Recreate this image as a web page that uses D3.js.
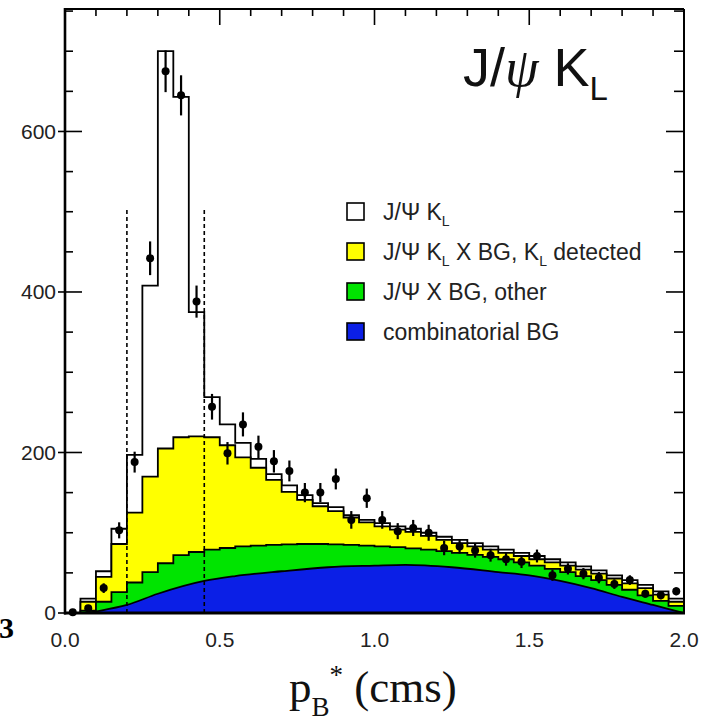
<!DOCTYPE html>
<html>
<head>
<meta charset="utf-8">
<script src="https://cdn.jsdelivr.net/npm/d3@7"></script>
<style>
  body { margin: 0; background: #fff; }
</style>
</head>
<body>
<script>
  var width = 713, height = 723;

  // bin lower edges, width 0.05
  var binStart = [0.00,0.05,0.10,0.15,0.20,0.25,0.30,0.35,0.40,0.45,
                  0.50,0.55,0.60,0.65,0.70,0.75,0.80,0.85,0.90,0.95,
                  1.00,1.05,1.10,1.15,1.20,1.25,1.30,1.35,1.40,1.45,
                  1.50,1.55,1.60,1.65,1.70,1.75,1.80,1.85,1.90,1.95];
  var binWidth = 0.05;

  // stacked tops
  var totalTop = [0,18,52,105,197,408,700,643,375,269,235,212,192,173,159,147,137,132,122,116,
                  112,108,105,100,95,91,87,83,79,75,71,67,63,58,53,47,41,35,27,18];
  var kxTop = [0,14,45,86,125,170,205,219,220,219,209,194,181,166,151,141,133,127,119,113,
               108,104,101,96,91,87,83,79,75,71,67,63,59,54,49,43,37,31,23,14];
  var otherTop = [0,3,14,26,38,51,62,72,76,79,81,83,84,85,85.5,86,86,85.5,85,84,
                  83,82,80.5,79,77,75,72.5,70,67,63,59,55,51,46,41,35,29,22,15,9];

  // combinatorial BG (smooth)
  var combX = [0.07,0.10,0.20,0.30,0.45,0.55,0.70,0.85,1.00,1.10,1.25,1.40,1.50,1.60,1.70,1.80,1.90,1.97,2.00];
  var combY = [0,2,10,24,40,46,52,57,59,60,57,51,47,40,31,20,10,3,0];

  // data points
  var dataY = [1,6,31,103,188,442,675,645,388,257,199,235,207,189,177,150,150,167,116,143,
               116,102,106,100,81,83,78,72,67,64,71,47,55,49,44,36,41,24,22,27];
  var dataErr = [1,3,6,10,13,21,26,25,20,16,14,15,14,14,13,12,12,13,11,12,
                 11,10,10,10,9,9,9,8,8,8,8,7,7,7,7,6,6,5,5,5];

  var yTicks = [0,200,400,600];
  var xTicks = ["0.0","0.5","1.0","1.5","2.0"];
  var cutLines = [0.2, 0.45];

  var legendItems = [
    { fill: "#ffffff", parts: [["J/\u03A8 K",0],["L",1]] },
    { fill: "#ffff00", parts: [["J/\u03A8 K",0],["L",1],[" X BG, K",0],["L",1],[" detected",0]] },
    { fill: "#00e400", parts: [["J/\u03A8 X BG, other",0]] },
    { fill: "#0b1fe6", parts: [["combinatorial BG",0]] }
  ];

(function(){
  var pLeft = 65, pRight = 684, pTop = 9, pBottom = 613;
  var sans = "'Liberation Sans', Arial, Helvetica, sans-serif";
  var serif = "'Liberation Serif', 'Times New Roman', serif";

  var x = d3.scaleLinear().domain([0, 2]).range([pLeft, pRight]);
  var y = d3.scaleLinear().domain([0, 752.6]).range([pBottom, pTop]);

  var svg = d3.select("body").append("svg")
    .attr("width", width)
    .attr("height", height)
    .attr("font-family", sans);

  function histPoints(vals) {
    var pts = vals.map(function(v, i) { return [binStart[i], v]; });
    pts.push([binStart[binStart.length - 1] + binWidth, vals[vals.length - 1]]);
    return pts;
  }

  var stepArea = d3.area()
    .curve(d3.curveStepAfter)
    .x(function(d) { return x(d[0]); })
    .y0(y(0))
    .y1(function(d) { return y(d[1]); });

  function drawHist(vals, fill) {
    svg.append("path")
      .attr("d", stepArea(histPoints(vals)))
      .attr("fill", fill)
      .attr("stroke", "#000")
      .attr("stroke-width", 1.8);
  }

  drawHist(totalTop, "#ffffff");
  drawHist(kxTop, "#ffff00");
  drawHist(otherTop, "#00e400");

  var combArea = d3.area()
    .curve(d3.curveMonotoneX)
    .x(function(d) { return x(d[0]); })
    .y0(y(0))
    .y1(function(d) { return y(d[1]); });

  svg.append("path")
    .attr("d", combArea(combX.map(function(v, i) { return [v, combY[i]]; })))
    .attr("fill", "#0b1fe6")
    .attr("stroke", "#000")
    .attr("stroke-width", 1.8);

  // signal window
  svg.selectAll(".cut").data(cutLines).enter().append("line")
    .attr("x1", function(d) { return x(d); })
    .attr("x2", function(d) { return x(d); })
    .attr("y1", y(0))
    .attr("y2", y(505))
    .attr("stroke", "#000")
    .attr("stroke-width", 1.6)
    .attr("stroke-dasharray", "4,3");

  // data points
  var pts = svg.append("g");
  dataY.forEach(function(v, i) {
    var cx = x(binStart[i] + binWidth / 2);
    pts.append("line")
      .attr("x1", cx).attr("x2", cx)
      .attr("y1", y(Math.max(0, v - dataErr[i])))
      .attr("y2", y(v + dataErr[i]))
      .attr("stroke", "#000")
      .attr("stroke-width", 2.2);
    pts.append("circle")
      .attr("cx", cx).attr("cy", y(v))
      .attr("r", 4)
      .attr("fill", "#000");
  });

  // frame
  svg.append("line").attr("x1", pLeft).attr("x2", pRight).attr("y1", pTop).attr("y2", pTop)
    .attr("stroke", "#000").attr("stroke-width", 2);
  svg.append("line").attr("x1", pRight).attr("x2", pRight).attr("y1", pTop).attr("y2", pBottom)
    .attr("stroke", "#000").attr("stroke-width", 2);
  svg.append("line").attr("x1", pLeft).attr("x2", pLeft).attr("y1", pTop - 1).attr("y2", pBottom + 1.5)
    .attr("stroke", "#000").attr("stroke-width", 2.6);
  svg.append("line").attr("x1", pLeft - 1).attr("x2", pRight + 1).attr("y1", pBottom).attr("y2", pBottom)
    .attr("stroke", "#000").attr("stroke-width", 3);

  // ticks
  d3.range(0, 751, 50).forEach(function(v) {
    var major = v % 200 === 0;
    svg.append("line")
      .attr("x1", major ? pLeft - 7 : pLeft).attr("x2", pLeft + (major ? 17 : 8))
      .attr("y1", y(v)).attr("y2", y(v))
      .attr("stroke", "#000").attr("stroke-width", 1.6);
    svg.append("line")
      .attr("x1", pRight).attr("x2", pRight - (major ? 18 : 10))
      .attr("y1", y(v)).attr("y2", y(v))
      .attr("stroke", "#000").attr("stroke-width", 1.6);
  });
  d3.range(1, 20).forEach(function(k) {
    var major = k % 5 === 0;
    svg.append("line")
      .attr("x1", x(k / 10)).attr("x2", x(k / 10))
      .attr("y1", pTop).attr("y2", pTop + (major ? 16 : 7))
      .attr("stroke", "#000").attr("stroke-width", 1.6);
  });

  // tick labels
  svg.selectAll(".ylab").data(yTicks).enter().append("text")
    .attr("x", 56)
    .attr("y", function(d) { return y(d); })
    .attr("dy", "0.35em")
    .attr("text-anchor", "end")
    .attr("font-size", 21)
    .attr("fill", "#222")
    .text(function(d) { return d; });

  svg.selectAll(".xlab").data(xTicks).enter().append("text")
    .attr("x", function(d) { return x(+d); })
    .attr("y", 647)
    .attr("text-anchor", "middle")
    .attr("font-size", 21)
    .attr("fill", "#222")
    .text(function(d) { return d; });

  // stray panel number
  svg.append("text")
    .attr("x", -1).attr("y", 638)
    .attr("font-family", serif)
    .attr("font-weight", "bold")
    .attr("font-size", 30)
    .text("3");

  // axis title
  var xt = svg.append("text")
    .attr("x", 289).attr("y", 702)
    .attr("font-family", serif)
    .attr("font-size", 45)
    .attr("fill", "#111");
  xt.append("tspan").text("p");
  xt.append("tspan").attr("font-size", 27).attr("dy", 14).text("B");
  xt.append("tspan").attr("font-size", 27).attr("dy", -32).text("*");
  xt.append("tspan").attr("dy", 18).text(" (cms)");

  // plot title
  var tt = svg.append("text")
    .attr("x", 463).attr("y", 86)
    .attr("font-size", 54)
    .attr("fill", "#111");
  tt.append("tspan").text("J/");
  tt.append("tspan")
    .attr("font-family", serif)
    .attr("font-style", "italic")
    .text("\u03C8");
  tt.append("tspan").text(" K");
  tt.append("tspan").attr("font-size", 33).attr("dy", 14).text("L");

  // legend
  var lg = svg.append("g");
  legendItems.forEach(function(item, i) {
    var cy = 212 + i * 40;
    lg.append("rect")
      .attr("x", 347).attr("y", cy - 9)
      .attr("width", 17).attr("height", 17)
      .attr("fill", item.fill)
      .attr("stroke", "#000").attr("stroke-width", 1.6);
    var t = lg.append("text")
      .attr("x", 383).attr("y", cy + 8)
      .attr("font-size", 23)
      .attr("fill", "#222");
    var sub = false;
    item.parts.forEach(function(p) {
      var s = t.append("tspan").text(p[0]);
      if (p[1] && !sub) { s.attr("dy", 6).attr("font-size", 14); sub = true; }
      else if (!p[1] && sub) { s.attr("dy", -6); sub = false; }
    });
  });
})();
</script>
</body>
</html>
